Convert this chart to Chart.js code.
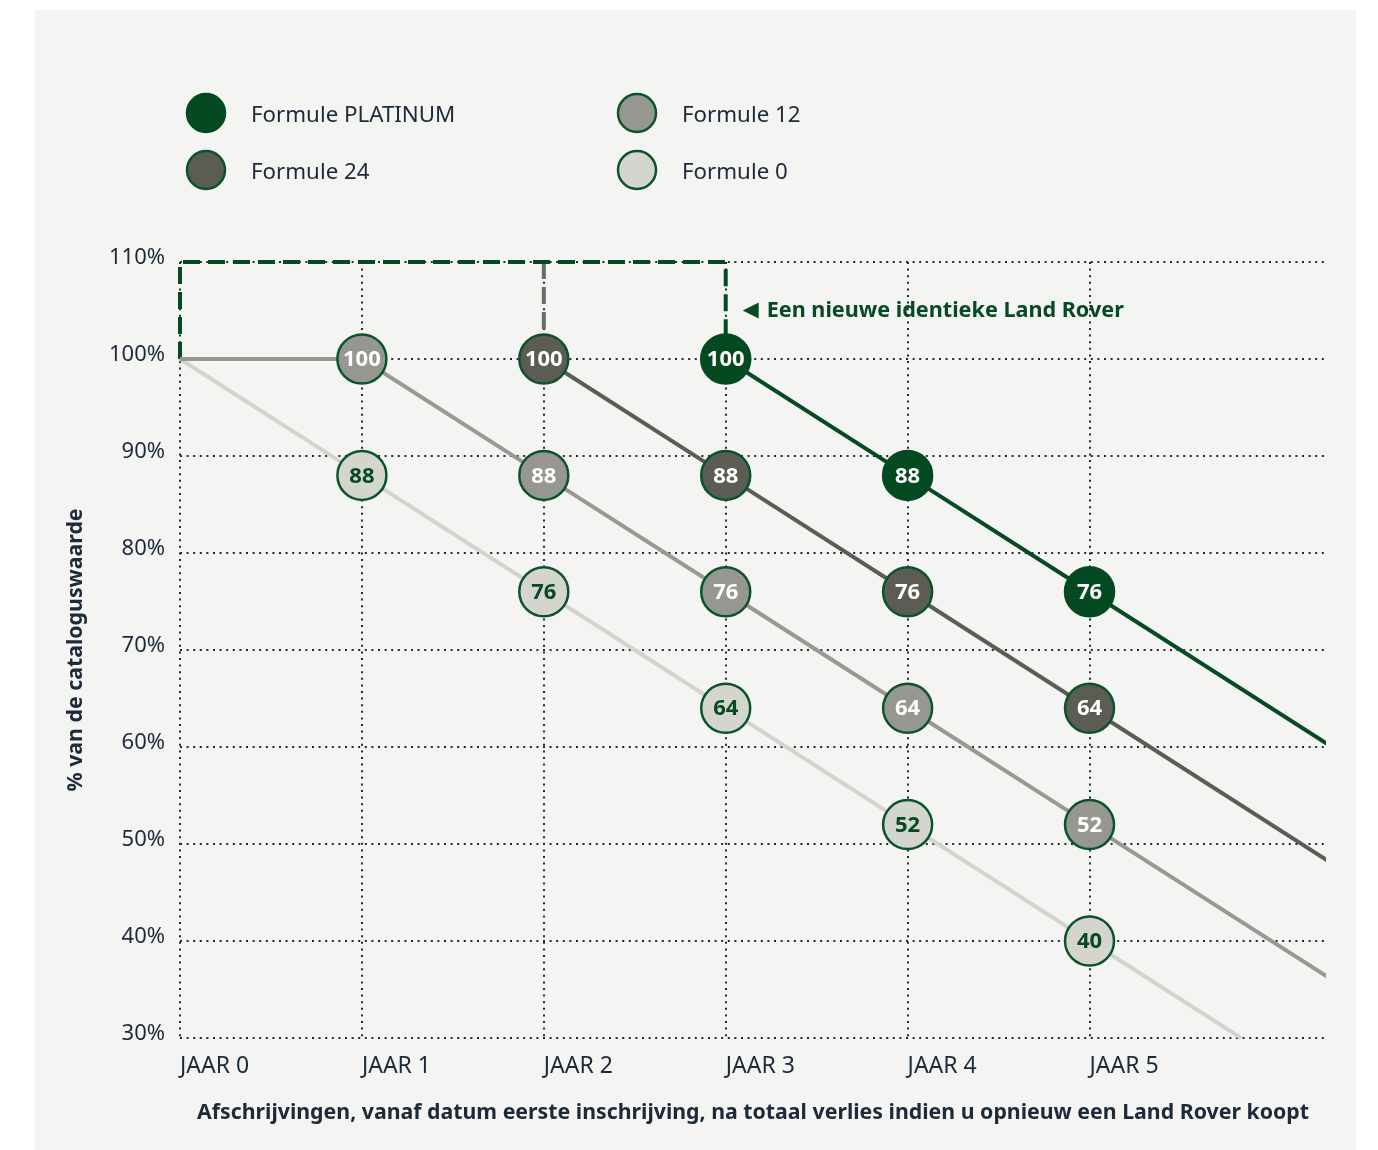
<!DOCTYPE html>
<html>
<head>
<meta charset="utf-8">
<title>Afschrijvingen Land Rover</title>
<script src="https://cdn.jsdelivr.net/npm/chart.js@4/dist/chart.umd.min.js"></script>
<style>
    html, body { margin: 0; padding: 0; background: #ffffff; }
    #wrap { width: 1378px; height: 1150px; }
</style>
</head>
<body>
<div id="wrap"><canvas id="depr-chart" width="1378" height="1150"></canvas></div>
<script>
// ── DATA ─────────────────────────────────────────────

var xLabels = ['JAAR 0', 'JAAR 1', 'JAAR 2', 'JAAR 3', 'JAAR 4', 'JAAR 5'];
var yTicks  = [30, 40, 50, 60, 70, 80, 90, 100, 110];

var seriesNames = ['Formule PLATINUM', 'Formule 12', 'Formule 24', 'Formule 0'];

// x = jaar, y = % van de cataloguswaarde; labeled = shown as bubble
var platinumX   = [3, 4, 5, 19 / 3];
var platinumY   = [100, 88, 76, 60];
var platinumLbl = [true, true, true, false];

var f24X   = [2, 3, 4, 5, 19 / 3];
var f24Y   = [100, 88, 76, 64, 48];
var f24Lbl = [true, true, true, true, false];

var f12X   = [0, 1, 2, 3, 4, 5, 19 / 3];
var f12Y   = [100, 100, 88, 76, 64, 52, 36];
var f12Lbl = [false, true, true, true, true, true, false];

var f0X   = [0, 1, 2, 3, 4, 5, 35 / 6];
var f0Y   = [100, 88, 76, 64, 52, 40, 30];
var f0Lbl = [false, true, true, true, true, true, false];

// "nieuwe identieke Land Rover" markers
var greenPathX = [0, 0, 3, 3];
var greenPathY = [100, 110, 110, 100];
var grayPathX  = [2, 2];
var grayPathY  = [110, 100];

var noteText = 'Een nieuwe identieke Land Rover';

// ── STYLE ────────────────────────────────────────────

var FONT   = '"Noto Sans", "Open Sans", sans-serif';
var NAVY   = '#1c2a39';
var GREEN  = '#064a22';
var RING   = '#0a5429';
var PANEL  = '#f4f4f2';

var fillPlat = '#034a21';
var fill24   = '#5b5d55';
var fill12   = '#979792';
var fill0    = '#d4d5cf';

// ── HELPERS ──────────────────────────────────────────

function toPoints(xs, ys) {
    var pts = [];
    for (var i = 0; i < xs.length; i++) {
        pts.push({ x: xs[i], y: ys[i] });
    }
    return pts;
}

function radii(lbl) {
    var r = [];
    for (var i = 0; i < lbl.length; i++) {
        r.push(lbl[i] ? 24.5 : 0);
    }
    return r;
}

function series(name, xs, ys, lbl, lineColor, fill, textColor, ring) {
    return {
        label: name,
        data: toPoints(xs, ys),
        labeled: lbl,
        textColor: textColor,
        borderColor: lineColor,
        borderWidth: 4,
        pointRadius: radii(lbl),
        pointBackgroundColor: fill,
        pointBorderColor: ring,
        pointBorderWidth: 2.5,
        fill: false,
        tension: 0,
        clip: { left: 2, right: 0, top: 2, bottom: 2 },
        order: 1
    };
}

// ── PLUGINS ──────────────────────────────────────────

var panelPlugin = {
    id: 'panel',
    beforeDraw: function(chart) {
        var c = chart.ctx;
        c.save();
        c.fillStyle = PANEL;
        c.fillRect(35, 10, 1321, 1140);
        c.restore();
    }
};

var legendItems = [
    { name: seriesNames[0], fill: fillPlat, ring: fillPlat, x: 206, y: 113 },
    { name: seriesNames[1], fill: fill12,   ring: RING,     x: 637, y: 113 },
    { name: seriesNames[2], fill: fill24,   ring: RING,     x: 206, y: 170 },
    { name: seriesNames[3], fill: fill0,    ring: RING,     x: 637, y: 170 }
];

var decoPlugin = {
    id: 'deco',
    afterDatasetsDraw: function(chart) {
        var c  = chart.ctx;
        var xs = chart.scales.x;
        var ys = chart.scales.y;
        c.save();

        // bubble labels
        c.font = 'bold 22px ' + FONT;
        c.textAlign = 'center';
        c.textBaseline = 'middle';
        chart.data.datasets.forEach(function(ds, i) {
            if (!ds.labeled) return;
            var meta = chart.getDatasetMeta(i);
            for (var j = 0; j < ds.data.length; j++) {
                if (!ds.labeled[j]) continue;
                var p = meta.data[j];
                c.fillStyle = ds.textColor;
                c.fillText(String(ds.data[j].y), p.x, p.y + 1);
            }
        });

        // note next to the green marker
        var nx = xs.getPixelForValue(3) + 17;
        var ny = ys.getPixelForValue(105);
        c.fillStyle = GREEN;
        c.beginPath();
        c.moveTo(nx, ny);
        c.lineTo(nx + 16, ny - 8);
        c.lineTo(nx + 16, ny + 8);
        c.closePath();
        c.fill();
        c.font = 'bold 21.6px ' + FONT;
        c.textAlign = 'left';
        c.fillText(noteText, nx + 24, ny);

        // legend
        c.font = '22.3px ' + FONT;
        for (var k = 0; k < legendItems.length; k++) {
            var it = legendItems[k];
            c.beginPath();
            c.arc(it.x, it.y, 19, 0, Math.PI * 2);
            c.fillStyle = it.fill;
            c.fill();
            c.lineWidth = 2.5;
            c.strokeStyle = it.ring;
            c.stroke();
            c.fillStyle = NAVY;
            c.fillText(it.name, it.x + 45, it.y + 3);
        }
        c.restore();
    }
};

// ── CHART SETUP ──────────────────────────────────────

var ctx = document.getElementById('depr-chart').getContext('2d');

var chart = new Chart(ctx, {
    type: 'line',
    data: {
        datasets: [
            series(seriesNames[0], platinumX, platinumY, platinumLbl, '#074b23', fillPlat, '#ffffff', fillPlat),
            series(seriesNames[2], f24X, f24Y, f24Lbl, '#5a5c55', fill24, '#ffffff', RING),
            series(seriesNames[1], f12X, f12Y, f12Lbl, '#999994', fill12, '#ffffff', RING),
            series(seriesNames[3], f0X, f0Y, f0Lbl, '#d3d4ce', fill0, GREEN, RING),
            {
                label: 'nieuw',
                data: toPoints(greenPathX, greenPathY),
                borderColor: GREEN,
                borderWidth: 4,
                borderDash: [17, 8],
                pointRadius: 0,
                fill: false,
                clip: false,
                order: 5
            },
            {
                label: 'nieuw 24',
                data: toPoints(grayPathX, grayPathY),
                borderColor: '#6a6b66',
                borderWidth: 4,
                borderDash: [17, 8],
                pointRadius: 0,
                fill: false,
                clip: false,
                order: 6
            }
        ]
    },
    options: {
        responsive: false,
        animation: false,
        events: [],
        layout: {
            padding: { top: 262, right: 52, left: 0, bottom: 0 }
        },
        plugins: {
            legend: { display: false },
            tooltip: { enabled: false }
        },
        scales: {
            x: {
                type: 'linear',
                min: 0,
                max: 6.3,
                afterFit: function(scale) { scale.height = 112; },
                afterBuildTicks: function(scale) {
                    var t = [];
                    for (var i = 0; i < xLabels.length; i++) t.push({ value: i });
                    scale.ticks = t;
                },
                grid: { color: NAVY, lineWidth: 2, drawTicks: false },
                border: { display: false, dash: [2, 4.6] },
                ticks: {
                    align: 'start',
                    padding: 15,
                    color: NAVY,
                    font: { family: FONT, size: 23 },
                    callback: function(v) { return xLabels[v]; }
                },
                title: {
                    display: true,
                    text: 'Afschrijvingen, vanaf datum eerste inschrijving, na totaal verlies indien u opnieuw een Land Rover koopt',
                    color: NAVY,
                    font: { family: FONT, size: 21.3, weight: 'bold' },
                    padding: { top: 0, bottom: 24 }
                }
            },
            y: {
                min: yTicks[0],
                max: yTicks[yTicks.length - 1],
                afterFit: function(scale) { scale.width = 180; },
                afterBuildTicks: function(scale) {
                    var t = [];
                    for (var i = 0; i < yTicks.length; i++) t.push({ value: yTicks[i] });
                    scale.ticks = t;
                },
                grid: { color: NAVY, lineWidth: 2, drawTicks: false },
                border: { display: false, dash: [2, 4.6] },
                ticks: {
                    padding: 15,
                    labelOffset: -4,
                    color: NAVY,
                    font: { family: FONT, size: 22 },
                    callback: function(v) { return v + '%'; }
                },
                title: {
                    display: true,
                    text: '% van de cataloguswaarde',
                    color: NAVY,
                    font: { family: FONT, size: 21.3, weight: 'bold' },
                    padding: { top: 63, bottom: 0 }
                }
            }
        }
    },
    plugins: [panelPlugin, decoPlugin]
});
</script>
</body>
</html>
